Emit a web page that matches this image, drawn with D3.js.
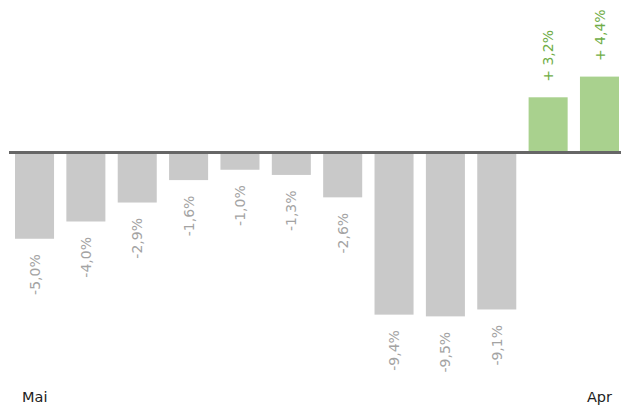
<!DOCTYPE html>
<html>
<head>
<meta charset="utf-8">
<script src="https://cdn.jsdelivr.net/npm/d3@7"></script>
<style>
  html, body { margin: 0; padding: 0; background: #fff; }
  svg { display: block; }
</style>
</head>
<body>
<svg id="chart" width="621" height="406"></svg>
<script>
// Monthly change, May through April
const months = ["Mai", "Jun", "Jul", "Aug", "Sep", "Okt", "Nov", "Dez", "Jan", "Feb", "Mär", "Apr"];
const changes = [-5.0, -4.0, -2.9, -1.6, -1.0, -1.3, -2.6, -9.4, -9.5, -9.1, 3.2, 4.4];
const edgeLabels = ["Mai", "Apr"];

const svg = d3.select("#chart");
const fontFamily = "'DejaVu Sans', Verdana, sans-serif";

const x = d3.scaleBand()
  .domain(months)
  .range([15, 619])
  .paddingInner(0.24)
  .paddingOuter(0);

const y = d3.scaleLinear()
  .domain([-10, 5])
  .range([325, 66.25]);

const fmt = v => (v > 0 ? "+ " : "") + d3.format(".1f")(v).replace(".", ",").replace("−", "-") + "%";

// Bars
svg.append("g")
  .selectAll("rect")
  .data(changes)
  .join("rect")
  .attr("x", (d, i) => x(months[i]))
  .attr("width", x.bandwidth())
  .attr("y", d => Math.min(y(d), y(0)))
  .attr("height", d => Math.abs(y(d) - y(0)))
  .attr("fill", d => d < 0 ? "#c9c9c9" : "#a9d18e");

// Zero baseline
svg.append("line")
  .attr("x1", 9).attr("x2", 621)
  .attr("y1", y(0)).attr("y2", y(0))
  .attr("stroke", "#666")
  .attr("stroke-width", 3);

// Value labels, rotated
svg.append("g")
  .selectAll("text")
  .data(changes)
  .join("text")
  .attr("transform", (d, i) => {
    const cx = x(months[i]) + x.bandwidth() / 2;
    const cy = d < 0 ? y(d) + 15.5 : y(d) - 15.5;
    return `translate(${cx},${cy}) rotate(-90)`;
  })
  .attr("text-anchor", d => d < 0 ? "end" : "start")
  .attr("dy", "0.36em")
  .attr("font-family", fontFamily)
  .attr("font-size", 14)
  .attr("fill", d => d < 0 ? "#a3a3a3" : "#70ad47")
  .text(fmt);

// First and last month labels
svg.append("g")
  .selectAll("text")
  .data(edgeLabels)
  .join("text")
  .attr("x", (d, i) => i === 0 ? 22 : 612)
  .attr("y", 401.5)
  .attr("text-anchor", (d, i) => i === 0 ? "start" : "end")
  .attr("font-family", fontFamily)
  .attr("font-size", 14.5)
  .attr("fill", "#222")
  .text(d => d);
</script>
</body>
</html>
